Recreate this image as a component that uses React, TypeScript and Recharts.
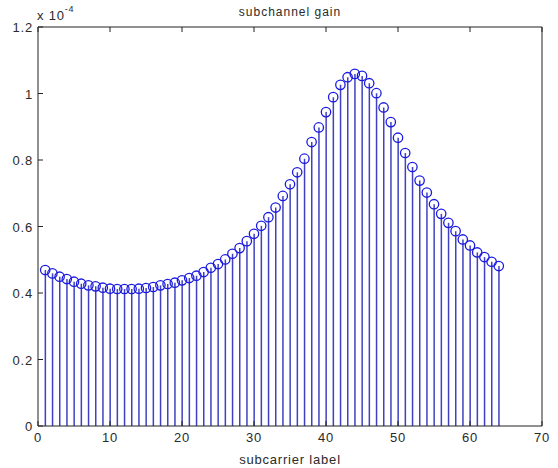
import React from 'react';
import { ComposedChart, Bar, Line, XAxis, YAxis } from 'recharts';

const subcarriers = [
  1, 2, 3, 4, 5, 6, 7, 8, 9, 10, 11, 12, 13, 14, 15, 16,
  17, 18, 19, 20, 21, 22, 23, 24, 25, 26, 27, 28, 29, 30, 31, 32,
  33, 34, 35, 36, 37, 38, 39, 40, 41, 42, 43, 44, 45, 46, 47, 48,
  49, 50, 51, 52, 53, 54, 55, 56, 57, 58, 59, 60, 61, 62, 63, 64,
];

// subchannel gain, in units of 1e-4
const gains = [
  0.469, 0.459, 0.449, 0.442, 0.434, 0.428, 0.423, 0.42, 0.416, 0.413, 0.412, 0.412, 0.412, 0.413, 0.415, 0.418,
  0.423, 0.427, 0.431, 0.438, 0.445, 0.452, 0.463, 0.476, 0.487, 0.501, 0.518, 0.535, 0.556, 0.578, 0.602, 0.628,
  0.657, 0.692, 0.727, 0.763, 0.804, 0.854, 0.898, 0.944, 0.989, 1.026, 1.049, 1.059, 1.053, 1.031, 1.001, 0.958,
  0.914, 0.867, 0.821, 0.779, 0.738, 0.702, 0.667, 0.638, 0.611, 0.586, 0.561, 0.543, 0.522, 0.508, 0.494, 0.481,
];

const xTicks = [0, 10, 20, 30, 40, 50, 60, 70];
const yTicks = [0, 0.2, 0.4, 0.6, 0.8, 1, 1.2];

const data = subcarriers.map((n, i) => ({ n, g: gains[i] }));

const FONT = 'Arial, "Liberation Sans", sans-serif';
const TEXT_COLOR = '#2a2a2a';
const AXIS_COLOR = '#222222';
const TICK_LEN = 5;

const BottomTick = (p: any) => (
  <g>
    <line x1={p.x} y1={p.y} x2={p.x} y2={p.y - TICK_LEN} stroke={AXIS_COLOR} strokeWidth={1} />
    <text x={p.x} y={p.y + 16} textAnchor="middle" fontSize={13} fontFamily={FONT} fill={TEXT_COLOR} letterSpacing={0.8}>
      {p.payload.value}
    </text>
  </g>
);
const TopTick = (p: any) => (
  <line x1={p.x} y1={p.y} x2={p.x} y2={p.y + TICK_LEN} stroke={AXIS_COLOR} strokeWidth={1} />
);
const LeftTick = (p: any) => (
  <g>
    <line x1={p.x} y1={p.y} x2={p.x + TICK_LEN} y2={p.y} stroke={AXIS_COLOR} strokeWidth={1} />
    <text x={p.x - 5} y={p.y + 5} textAnchor="end" fontSize={13} fontFamily={FONT} fill={TEXT_COLOR} letterSpacing={0.8}>
      {String(p.payload.value)}
    </text>
  </g>
);
const RightTick = (p: any) => (
  <line x1={p.x} y1={p.y} x2={p.x - TICK_LEN} y2={p.y} stroke={AXIS_COLOR} strokeWidth={1} />
);

export default function App() {
  return (
    <div style={{ position: 'absolute', left: 0, top: 0, width: 558, height: 468, background: '#fff' }}>
      <ComposedChart
        width={558}
        height={468}
        data={data}
        margin={{ top: 0, right: 0, bottom: 0, left: 0 }}
      >
        <XAxis
          xAxisId="b"
          dataKey="n"
          type="number"
          domain={[0, 70]}
          ticks={xTicks}
          orientation="bottom"
          height={42}
          tickSize={0}
          tickMargin={0}
          tick={<BottomTick />}
          axisLine={{ stroke: AXIS_COLOR }}
          tickLine={false}
          interval={0}
        />
        <XAxis
          xAxisId="t"
          dataKey="n"
          type="number"
          domain={[0, 70]}
          ticks={xTicks}
          orientation="top"
          height={27}
          tickSize={0}
          tickMargin={0}
          tick={<TopTick />}
          axisLine={{ stroke: AXIS_COLOR }}
          tickLine={false}
          interval={0}
        />
        <YAxis
          yAxisId="l"
          type="number"
          domain={[0, 1.2]}
          ticks={yTicks}
          orientation="left"
          width={38}
          tickSize={0}
          tickMargin={0}
          tick={<LeftTick />}
          axisLine={{ stroke: AXIS_COLOR }}
          tickLine={false}
          interval={0}
        />
        <YAxis
          yAxisId="r"
          type="number"
          domain={[0, 1.2]}
          ticks={yTicks}
          orientation="right"
          width={16}
          tickSize={0}
          tickMargin={0}
          tick={<RightTick />}
          axisLine={{ stroke: AXIS_COLOR }}
          tickLine={false}
          interval={0}
        />
        <Bar
          xAxisId="b"
          yAxisId="l"
          dataKey="g"
          barSize={1.5}
          fill="#4040c4"
          isAnimationActive={false}
        />
        <Line
          xAxisId="b"
          yAxisId="l"
          dataKey="g"
          stroke="none"
          dot={{ r: 4.7, stroke: '#1a1ae0', strokeWidth: 1.3, fill: 'none' }}
          activeDot={false}
          isAnimationActive={false}
        />
      </ComposedChart>
      <svg
        width={558}
        height={468}
        style={{ position: 'absolute', left: 0, top: 0, pointerEvents: 'none' }}
      >
        <text x={290} y={16} textAnchor="middle" fontSize={12} fontFamily={FONT} fill={TEXT_COLOR} letterSpacing={1}>
          subchannel gain
        </text>
        <text x={37} y={20} fontSize={13} fontFamily={FONT} fill={TEXT_COLOR} letterSpacing={0.8}>
          x 10
          <tspan dy={-8} fontSize={9}>-4</tspan>
        </text>
        <text x={290} y={464} textAnchor="middle" fontSize={13} fontFamily={FONT} fill={TEXT_COLOR} letterSpacing={0.8}>
          subcarrier label
        </text>
      </svg>
    </div>
  );
}
